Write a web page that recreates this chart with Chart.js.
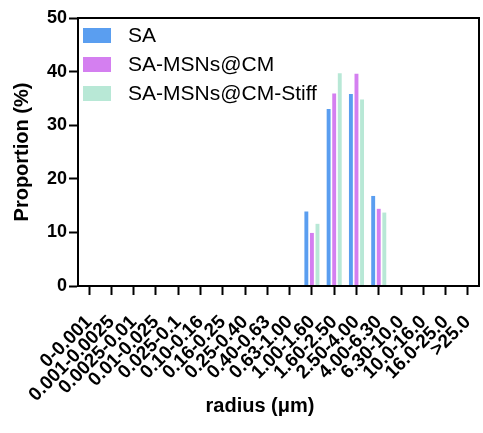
<!DOCTYPE html>
<html><head><meta charset="utf-8">
<script src="https://cdn.jsdelivr.net/npm/chart.js@4"></script>
<style>html,body{margin:0;padding:0;background:#fff}#wrap{width:483px;height:433px}</style>
</head><body><div id="wrap"><canvas id="c" width="483" height="433"></canvas></div>
<script>
const categories = ["0-0.001","0.001-0.0025","0.0025-0.01","0.01-0.025","0.025-0.1","0.10-0.16","0.16-0.25","0.25-0.40","0.40-0.63","0.63-1.00","1.00-1.60","1.60-2.50","2.50-4.00","4.00-6.30","6.30-10.0","10.0-16.0","16.0-25.0",">25.0"];
const seriesNames = ["SA","SA-MSNs@CM","SA-MSNs@CM-Stiff"];
const saValues    = [0,0,0,0,0,0,0,0,0,0,13.9,33.0,35.8,16.8,0,0,0,0];
const cmValues    = [0,0,0,0,0,0,0,0,0,0,9.9,35.9,39.6,14.4,0,0,0,0];
const stiffValues = [0,0,0,0,0,0,0,0,0,0,11.6,39.7,34.8,13.7,0,0,0,0];
const yTicks = [0,10,20,30,40,50];
const colors = ["#5a9ef0","#d47ff0","#b8e8d6"];
const FONT = "'Liberation Sans', Arial, sans-serif";

const framePlugin = {
  id:'frame',
  afterDraw(chart){
    const {ctx, chartArea:a} = chart;
    ctx.save();
    ctx.strokeStyle='#000'; ctx.lineWidth=2;
    ctx.strokeRect(a.left, a.top, a.right-a.left, a.bottom-a.top);
    // legend
    ctx.font = "21px " + FONT;
    ctx.textBaseline='middle';
    seriesNames.forEach((n,i)=>{
      const y = a.top + 10 + i*29;
      ctx.fillStyle = colors[i];
      ctx.fillRect(a.left+5, y, 28, 15);
      ctx.fillStyle = '#000';
      ctx.fillText(n, a.left+50, y+8);
    });
    // x title
    ctx.font = "bold 20px " + FONT;
    ctx.textAlign='center';
    ctx.fillText("radius (\u03bcm)", 260, 406);
    ctx.restore();
  }
};

new Chart(document.getElementById('c'), {
  type:'bar',
  data:{
    labels: categories,
    datasets:[
      {label:seriesNames[0], data:saValues, backgroundColor:colors[0]},
      {label:seriesNames[1], data:cmValues, backgroundColor:colors[1]},
      {label:seriesNames[2], data:stiffValues, backgroundColor:colors[2]}
    ]
  },
  options:{
    responsive:false, animation:false,
    layout:{padding:{top:18,right:4,left:0,bottom:0}},
    barPercentage:0.7, categoryPercentage:0.75,
    plugins:{legend:{display:false}, tooltip:{enabled:false}},
    scales:{
      x:{
        offset:true,
        grid:{display:true, offset:false, drawOnChartArea:false, drawTicks:true, tickLength:9, tickWidth:2, tickColor:'#000'},
        border:{display:true, color:'#000', width:2},
        ticks:{color:'#000', font:{family:FONT, size:19, weight:'bold'}, maxRotation:45, minRotation:45, autoSkip:false, padding:16},
        afterFit(s){ s.height = 433-286; s.paddingLeft = 0; s.paddingRight = 0; }
      },
      y:{
        min:0, max:50,
        afterBuildTicks(s){ s.ticks = yTicks.map(v=>({value:v})); },
        grid:{display:true, drawOnChartArea:false, drawTicks:true, tickLength:9, tickWidth:2, tickColor:'#000'},
        border:{display:true, color:'#000', width:2},
        ticks:{color:'#000', font:{family:FONT, size:18, weight:'bold'}, padding:2},
        title:{display:true, text:'Proportion (%)', color:'#000', font:{family:FONT, size:20, weight:'bold'}, padding:{top:10,bottom:0}},
        afterFit(s){ s.width = 78; s.paddingTop = 0; s.paddingBottom = 0; }
      }
    }
  },
  plugins:[framePlugin]
});
</script></body></html>
